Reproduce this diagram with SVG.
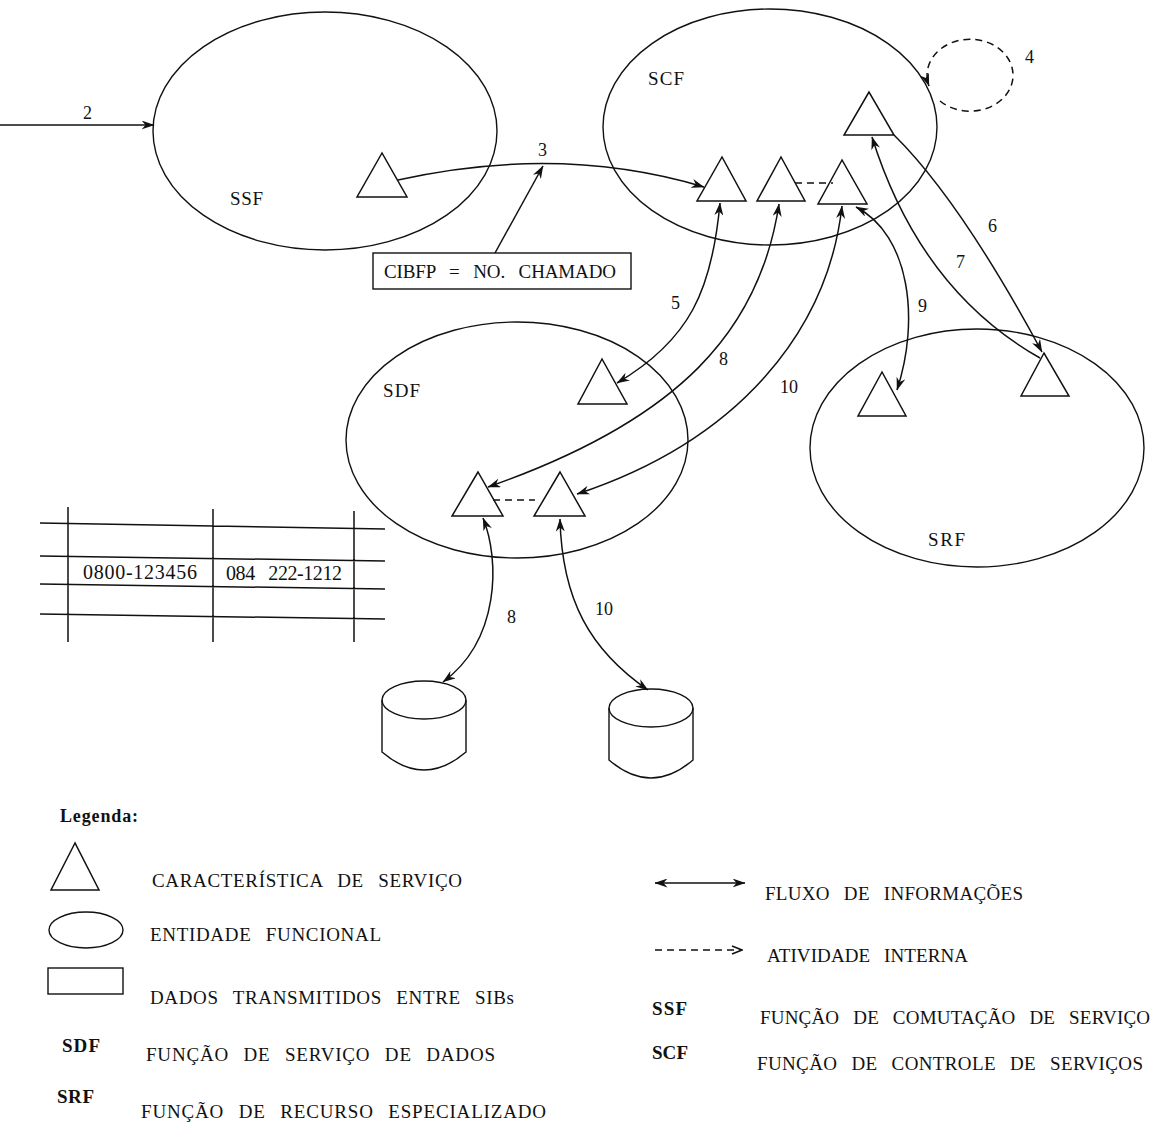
<svg xmlns="http://www.w3.org/2000/svg" width="1158" height="1129" viewBox="0 0 1158 1129">
<style>
.ln{fill:none;stroke:#111;stroke-width:1.5}
.ent{fill:none;stroke:#111;stroke-width:1.4}
.tri{fill:none;stroke:#111;stroke-width:1.5}
.dash{stroke-dasharray:7 5}
.t{font-family:"Liberation Serif","Times New Roman",serif;fill:#111;font-size:19px}
.w{word-spacing:9px}
.b{font-weight:bold}
.lab{font-size:19px}
.num{font-size:18px}
</style>
<defs>
<marker id="ah" viewBox="0 0 13 9" refX="12.5" refY="4.5" markerWidth="13" markerHeight="9" markerUnits="userSpaceOnUse" orient="auto-start-reverse">
<path d="M0,0 L13,4.5 L0,9 L4,4.5 z" fill="#111"/>
</marker>
<marker id="oh" viewBox="0 0 12 10" refX="11" refY="5" markerWidth="12" markerHeight="10" markerUnits="userSpaceOnUse" orient="auto">
<path d="M1,1 L11,5 L1,9" fill="none" stroke="#111" stroke-width="1.5"/>
</marker>
</defs>
<rect width="1158" height="1129" fill="#fff"/>

<!-- functional entities -->
<g id="SSF">
<ellipse class="ent" cx="325" cy="131" rx="172" ry="119"/>
<text class="t lab" x="230" y="205" textLength="33">SSF</text>
</g>
<g id="SCF">
<ellipse class="ent" cx="770" cy="127" rx="167" ry="118"/>
<text class="t lab" x="648" y="85" textLength="36">SCF</text>
</g>
<g id="SDF">
<ellipse class="ent" cx="517" cy="440" rx="171" ry="118"/>
<text class="t lab" x="383" y="397" textLength="37">SDF</text>
</g>
<g id="SRF">
<ellipse class="ent" cx="977" cy="448" rx="167" ry="119"/>
<text class="t lab" x="928" y="546" textLength="37">SRF</text>
</g>

<!-- connectors -->
<g id="connectors">
<path class="ln" d="M0 125 L154 125" marker-end="url(#ah)"/>
<text class="t num" x="83" y="119">2</text>
<path class="ln" d="M398 180 Q560 144 704 187" marker-end="url(#ah)"/>
<text class="t num" x="538" y="156">3</text>
<path class="ln" d="M495 253 L543 166" marker-end="url(#ah)"/>
<path class="ln dash" d="M940 101 A43 36 0 1 0 929 86" marker-end="url(#ah)"/>
<text class="t num" x="1025" y="63">4</text>
<path class="ln" d="M720 203 C712 290 690 340 617 383" marker-start="url(#ah)" marker-end="url(#ah)"/>
<text class="t num" x="671" y="309">5</text>
<path class="ln" d="M894 135 Q960 200 1042 352" marker-end="url(#ah)"/>
<text class="t num" x="988" y="232">6</text>
<path class="ln" d="M1040 358 Q920 290 872 137" marker-end="url(#ah)"/>
<text class="t num" x="956" y="268">7</text>
<path class="ln" d="M779 204 C760 330 680 420 488 487" marker-start="url(#ah)" marker-end="url(#ah)"/>
<text class="t num" x="719" y="365">8</text>
<path class="ln" d="M856 207 C910 235 920 320 897 390" marker-start="url(#ah)" marker-end="url(#ah)"/>
<text class="t num" x="918" y="312">9</text>
<path class="ln" d="M842 206 C828 330 740 440 577 494" marker-start="url(#ah)" marker-end="url(#ah)"/>
<text class="t num" x="780" y="393">10</text>
<path class="ln" d="M483 518 C500 560 500 640 443 682" marker-start="url(#ah)" marker-end="url(#ah)"/>
<text class="t num" x="507" y="623">8</text>
<path class="ln" d="M560 519 C562 600 590 650 648 690" marker-start="url(#ah)" marker-end="url(#ah)"/>
<text class="t num" x="595" y="615">10</text>
<path class="ln dash" d="M795 183 L833 183"/>
<path class="ln dash" d="M493 500 L535 500"/>
</g>

<!-- service features -->
<g id="ssf-feature"><polygon class="tri" points="382,153 357,197 407,197"/></g>
<g id="scf-feature-1"><polygon class="tri" points="722,157 697,201 746,201"/></g>
<g id="scf-feature-2"><polygon class="tri" points="781,157 757,201 805,201"/></g>
<g id="scf-feature-3"><polygon class="tri" points="842,160 818,204 867,204"/></g>
<g id="scf-feature-4"><polygon class="tri" points="869,92 844,135 894,135"/></g>
<g id="sdf-feature-1"><polygon class="tri" points="602,359 578,404 627,404"/></g>
<g id="sdf-feature-2"><polygon class="tri" points="478,472 452,516 503,516"/></g>
<g id="sdf-feature-3"><polygon class="tri" points="560,472 534,516 585,516"/></g>
<g id="srf-feature-1"><polygon class="tri" points="882,372 858,416 906,416"/></g>
<g id="srf-feature-2"><polygon class="tri" points="1044,353 1021,396 1069,396"/></g>

<!-- data box -->
<g id="cibfp">
<rect class="ent" x="373" y="253" width="258" height="36"/>
<text class="t w" x="384" y="278" textLength="232">CIBFP = NO. CHAMADO</text>
</g>

<!-- databases -->
<g id="db-1">
<path class="ent" d="M382 700 L382 752 Q424 788 466 752 L466 700"/>
<ellipse class="ent" cx="424" cy="700" rx="42" ry="19"/>
</g>
<g id="db-2">
<path class="ent" d="M609 708 L609 760 Q651 796 693 760 L693 708"/>
<ellipse class="ent" cx="651" cy="708" rx="42" ry="19"/>
</g>

<!-- table -->
<g id="table">
<path class="ln" d="M40 523 L385 529 M40 556 L385 561 M40 584 L385 589 M40 614 L385 619 M68 507 L68 642 M213 509 L213 642 M354 511 L354 642"/>
<text class="t" style="font-size:20px" x="83" y="579" textLength="114">0800-123456</text>
<text class="t w" style="font-size:20px" x="226" y="580" textLength="116">084 222-1212</text>
</g>

<!-- legend -->
<g id="legend">
<text class="t b" style="font-size:18px" x="60" y="822" textLength="78">Legenda:</text>
<polygon class="tri" points="75,843 51,890 99,890"/>
<text class="t w" x="152" y="887" textLength="310">CARACTERÍSTICA DE SERVIÇO</text>
<ellipse class="ent" cx="86" cy="930" rx="37" ry="18"/>
<text class="t w" x="150" y="941" textLength="231">ENTIDADE FUNCIONAL</text>
<rect class="ent" x="48" y="968" width="75" height="26"/>
<text class="t w" x="150" y="1004" textLength="364">DADOS TRANSMITIDOS ENTRE SIBs</text>
<text class="t b" x="62" y="1052" textLength="38">SDF</text>
<text class="t w" x="146" y="1061" textLength="349">FUNÇÃO DE SERVIÇO DE DADOS</text>
<text class="t b" x="57" y="1103" textLength="37">SRF</text>
<text class="t w" x="141" y="1118" textLength="405">FUNÇÃO DE RECURSO ESPECIALIZADO</text>
<path class="ln" d="M655 883 L745 883" marker-start="url(#ah)" marker-end="url(#ah)"/>
<text class="t w" x="765" y="900" textLength="258">FLUXO DE INFORMAÇÕES</text>
<path class="ln dash" d="M655 950 L742 950" marker-end="url(#oh)"/>
<text class="t w" x="767" y="962" textLength="201">ATIVIDADE INTERNA</text>
<text class="t b" x="652" y="1015" textLength="35">SSF</text>
<text class="t w" x="760" y="1024" textLength="390">FUNÇÃO DE COMUTAÇÃO DE SERVIÇO</text>
<text class="t b" x="652" y="1059" textLength="36">SCF</text>
<text class="t w" x="757" y="1070" textLength="386">FUNÇÃO DE CONTROLE DE SERVIÇOS</text>
</g>
</svg>
